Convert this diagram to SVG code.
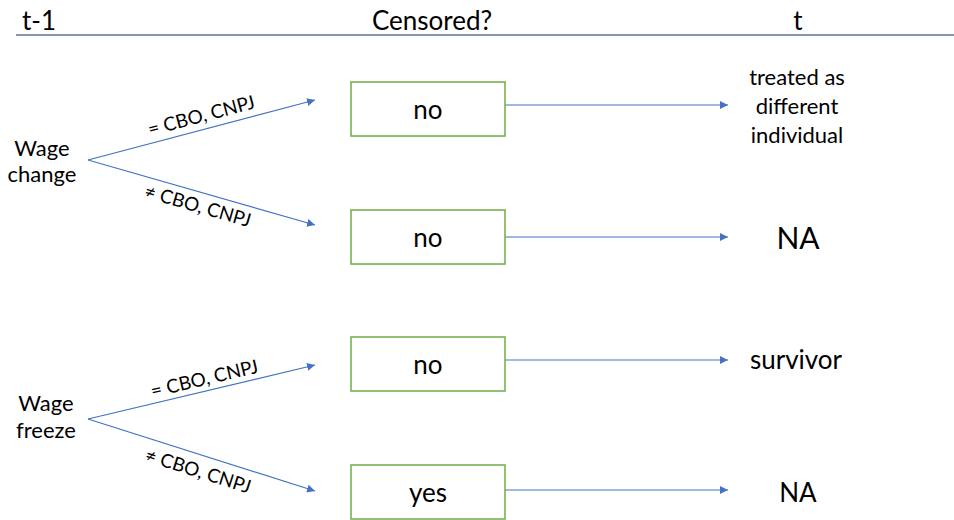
<svg xmlns="http://www.w3.org/2000/svg" width="954" height="520" viewBox="0 0 954 520">
<defs>
<marker id="ah" viewBox="0 0 10 10" refX="10" refY="5" markerWidth="8" markerHeight="8" markerUnits="userSpaceOnUse" orient="auto"><path d="M0,0 L10,5 L0,10 z" fill="#4472c4"/></marker>
<style>
text{font-family:Lato,"Open Sans","Liberation Sans",sans-serif;fill:#000}
.box{fill:#fff;stroke:#70ad47;stroke-width:1.5}
.c{stroke:#4472c4;stroke-width:1.2;fill:none;marker-end:url(#ah)}
.m{text-anchor:middle}
</style>
</defs>
<rect width="954" height="520" fill="#fff"/>
<g id="header">
<line x1="16" y1="35" x2="954" y2="35" stroke="#8497b0" stroke-width="2"/>
<text x="22" y="30" font-size="26">t-1</text>
<text x="432" y="30" font-size="26" class="m">Censored?</text>
<text x="798" y="30" font-size="26" class="m">t</text>
</g>
<g id="connectors">
<line class="c" x1="88" y1="160" x2="315" y2="100"/>
<line class="c" x1="88" y1="160" x2="315" y2="225"/>
<line class="c" x1="88" y1="419" x2="315" y2="365"/>
<line class="c" x1="88" y1="419" x2="315" y2="491"/>
<line class="c" x1="505" y1="105" x2="728" y2="105"/>
<line class="c" x1="505" y1="237" x2="728" y2="237"/>
<line class="c" x1="505" y1="360" x2="728" y2="360"/>
<line class="c" x1="505" y1="490" x2="728" y2="490"/>
<text font-size="19" class="m" transform="translate(203,122) rotate(-14.8)">= CBO, CNPJ</text>
<text font-size="19" class="m" transform="translate(196,212) rotate(16)">≠ CBO, CNPJ</text>
<text font-size="19" class="m" transform="translate(206,385) rotate(-13.4)">= CBO, CNPJ</text>
<text font-size="19" class="m" transform="translate(196,477) rotate(17.6)">≠ CBO, CNPJ</text>
</g>
<g id="wage-change"><text x="42" y="156" font-size="22" class="m">Wage</text><text x="42" y="182" font-size="22" class="m">change</text></g>
<g id="wage-freeze"><text x="46" y="411" font-size="22" class="m">Wage</text><text x="46" y="438" font-size="22" class="m">freeze</text></g>
<g id="box1"><rect class="box" x="351" y="82" width="154" height="54"/><text x="428" y="119" font-size="26" class="m">no</text></g>
<g id="box2"><rect class="box" x="351" y="210" width="154" height="54"/><text x="428" y="247" font-size="26" class="m">no</text></g>
<g id="box3"><rect class="box" x="351" y="337" width="154" height="54"/><text x="428" y="374" font-size="26" class="m">no</text></g>
<g id="box4"><rect class="box" x="351" y="465" width="154" height="54"/><text x="428" y="502" font-size="26" class="m">yes</text></g>
<g id="out1"><text x="797" y="85" font-size="22" class="m">treated as</text><text x="797" y="114" font-size="22" class="m">different</text><text x="797" y="143" font-size="22" class="m">individual</text></g>
<g id="out2"><text x="798" y="249" font-size="30" class="m">NA</text></g>
<g id="out3"><text x="796" y="369" font-size="26" class="m">survivor</text></g>
<g id="out4"><text x="798" y="502" font-size="26" class="m">NA</text></g>
</svg>
